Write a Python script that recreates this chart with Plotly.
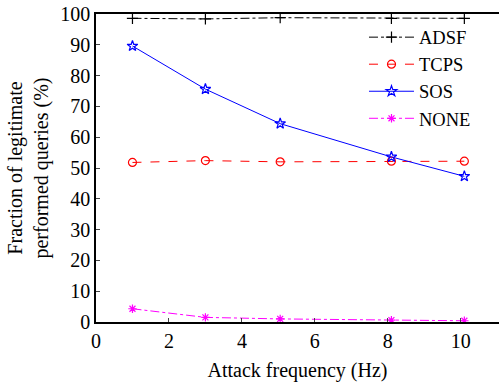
import plotly.graph_objects as go

freq = [1, 3, 5.05, 8.1, 10.1]
adsf = [98.6, 98.4, 98.8, 98.6, 98.6]
tcps = [51.8, 52.4, 52.0, 52.2, 52.2]
sos = [89.6, 75.6, 64.4, 53.6, 47.3]
none = [4.3, 1.5, 1.0, 0.6, 0.4]

series = [
    ("ADSF", adsf, "black", "dashdot", "cross-thin-open", 8),
    ("TCPS", tcps, "red", "dash", "circle-open", 8),
    ("SOS", sos, "blue", "solid", "star-open", 8),
    ("NONE", none, "magenta", "dashdot", "asterisk-open", 7),
]

fig = go.Figure()
for name, vals, col, dash, sym, sz in series:
    fig.add_trace(go.Scatter(
        x=freq, y=vals, name=name, mode="lines+markers",
        line=dict(color=col, dash=dash, width=1),
        marker=dict(symbol=sym, size=sz, color=col, line=dict(color=col, width=1.2)),
    ))

font = "Liberation Serif"
fig.update_layout(
    width=499, height=383,
    margin=dict(l=96, r=0, t=14, b=61),
    paper_bgcolor="white", plot_bgcolor="white",
    font=dict(family=font, size=20, color="black"),
    showlegend=True,
    legend=dict(x=0.665, y=0.985, xanchor="left", yanchor="top",
                bgcolor="rgba(0,0,0,0)", font=dict(family=font, size=18.5, color="black"),
                tracegroupgap=0, itemwidth=45),
    xaxis=dict(range=[0, 11.05], tickvals=[0, 2, 4, 6, 8, 10],
               ticks="inside", ticklen=4, showgrid=False, zeroline=False,
               showline=True, linecolor="black", linewidth=1.5, mirror=True,
               tickfont=dict(family=font, size=20),
               title=dict(text="Attack frequency (Hz)", font=dict(family=font, size=20), standoff=12)),
    yaxis=dict(range=[0, 100], tickvals=list(range(0, 101, 10)),
               ticks="inside", ticklen=4, showgrid=False, zeroline=False,
               showline=True, linecolor="black", linewidth=1.5,
               tickfont=dict(family=font, size=20),
               title=dict(text="Fraction of legitimate<br>performed queries (%)",
                          font=dict(family=font, size=20), standoff=6)),
)

fig.write_html("out.html")
